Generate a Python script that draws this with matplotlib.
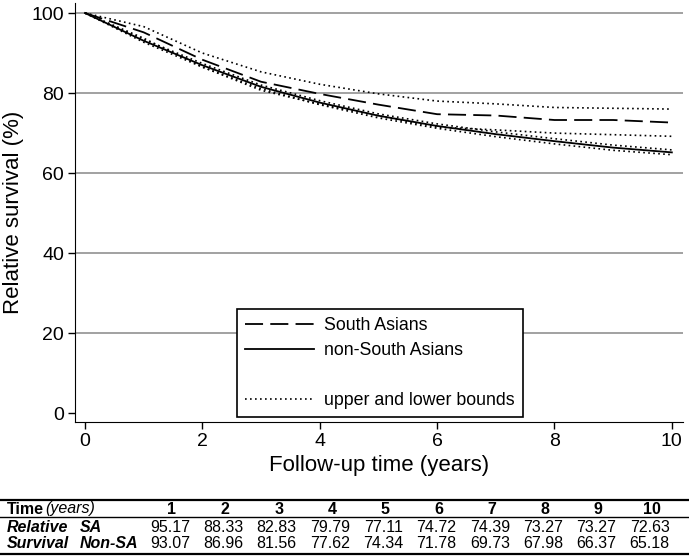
import numpy as np
import matplotlib
matplotlib.use('Agg')
import matplotlib.pyplot as plt
from matplotlib.lines import Line2D
from matplotlib import font_manager

names = {f.name for f in font_manager.fontManager.ttflist}
base = 'Liberation Sans Narrow' if 'Liberation Sans Narrow' in names else 'Liberation Sans'
plt.rcParams['font.family'] = [base, 'DejaVu Sans']

# data
years = [0, 1, 2, 3, 4, 5, 6, 7, 8, 9, 10]
sa = [100, 95.17, 88.33, 82.83, 79.79, 77.11, 74.72, 74.39, 73.27, 73.27, 72.63]
non_sa = [100, 93.07, 86.96, 81.56, 77.62, 74.34, 71.78, 69.73, 67.98, 66.37, 65.18]
sa_upper = [100, 96.6, 90.0, 85.3, 82.2, 79.8, 78.0, 77.3, 76.4, 76.2, 76.0]
sa_lower = [100, 93.7, 86.5, 80.7, 77.2, 74.3, 71.5, 70.8, 70.0, 69.6, 69.2]
nsa_upper = [100, 93.4, 87.4, 82.0, 78.1, 74.8, 72.3, 70.3, 68.6, 67.0, 65.8]
nsa_lower = [100, 92.7, 86.5, 81.1, 77.1, 73.8, 71.2, 69.1, 67.3, 65.7, 64.6]

tab_years = ['1', '2', '3', '4', '5', '6', '7', '8', '9', '10']
tab_sa = ['95.17', '88.33', '82.83', '79.79', '77.11', '74.72', '74.39', '73.27', '73.27', '72.63']
tab_nsa = ['93.07', '86.96', '81.56', '77.62', '74.34', '71.78', '69.73', '67.98', '66.37', '65.18']

W, H = 689, 557
fig = plt.figure(figsize=(6.89, 5.57), dpi=100)
ax = fig.add_axes([75 / W, 1 - 421.7 / H, (683 - 75) / W, (421.7 - 3) / H])

dot = (0, (1, 2))
ax.plot(years, sa_upper, color='black', lw=1.2, linestyle=dot)
ax.plot(years, sa_lower, color='black', lw=1.2, linestyle=dot)
ax.plot(years, nsa_upper, color='black', lw=1.2, linestyle=dot)
ax.plot(years, nsa_lower, color='black', lw=1.2, linestyle=dot)
ax.plot(years, sa, color='black', lw=1.3, dashes=(10, 4))
ax.plot(years, non_sa, color='black', lw=1.3)

ax.set_xlim(-0.17, 10.19)
ax.set_ylim(-2.1, 102.5)
ax.set_xticks([0, 2, 4, 6, 8, 10])
ax.set_yticks([0, 20, 40, 60, 80, 100])
for v in [20, 40, 60, 80, 100]:
    ax.axhline(v, color='#9a9a9a', lw=1.3, zorder=0)
ax.spines['top'].set_visible(False)
ax.spines['right'].set_visible(False)
ax.tick_params(direction='out', length=5, width=1, labelsize=14, pad=3)
ax.set_xlabel('Follow-up time (years)', fontsize=16, labelpad=4)
ax.set_ylabel('Relative survival (%)', fontsize=16, labelpad=5)

handles = [
    Line2D([], [], color='black', lw=1.3, dashes=(10, 4)),
    Line2D([], [], color='black', lw=1.3),
    Line2D([], [], color='none'),
    Line2D([], [], color='black', lw=1.2, linestyle=dot),
]
labels = ['South Asians', 'non-South Asians', ' ', 'upper and lower bounds']
leg = ax.legend(handles, labels, loc='upper left', bbox_to_anchor=(237 / W, 1 - 309 / H),
                bbox_transform=fig.transFigure, borderaxespad=0, fontsize=12.8,
                handlelength=3.9, handletextpad=0.55, labelspacing=0.45,
                fancybox=False, framealpha=1, edgecolor='black', borderpad=0.45)
leg.get_frame().set_linewidth(1.2)

# table below
def fy(y):
    return 1 - y / H

for y, lw in [(500, 1.6), (517, 1.0), (554, 1.6)]:
    fig.add_artist(Line2D([0, 1], [fy(y), fy(y)], color='black', lw=lw, transform=fig.transFigure))

fs = 11.5
col_x = [170 + 53.3 * i for i in range(10)]
fig.text(7 / W, fy(509), 'Time', fontsize=fs, fontweight='bold', va='center')
fig.text(45 / W, fy(509), '(years)', fontsize=fs, fontstyle='italic', va='center')
fig.text(7 / W, fy(527), 'Relative', fontsize=fs, fontweight='bold', fontstyle='italic', va='center')
fig.text(80 / W, fy(527), 'SA', fontsize=fs, fontweight='bold', fontstyle='italic', va='center')
fig.text(7 / W, fy(544), 'Survival', fontsize=fs, fontweight='bold', fontstyle='italic', va='center')
fig.text(80 / W, fy(544), 'Non-SA', fontsize=fs, fontweight='bold', fontstyle='italic', va='center')
for i in range(10):
    fig.text((col_x[i] + 2) / W, fy(509), tab_years[i], fontsize=fs, fontweight='bold', ha='center', va='center')
    fig.text(col_x[i] / W, fy(527), tab_sa[i], fontsize=fs, ha='center', va='center')
    fig.text(col_x[i] / W, fy(544), tab_nsa[i], fontsize=fs, ha='center', va='center')

fig.savefig('out.png', dpi=100)
